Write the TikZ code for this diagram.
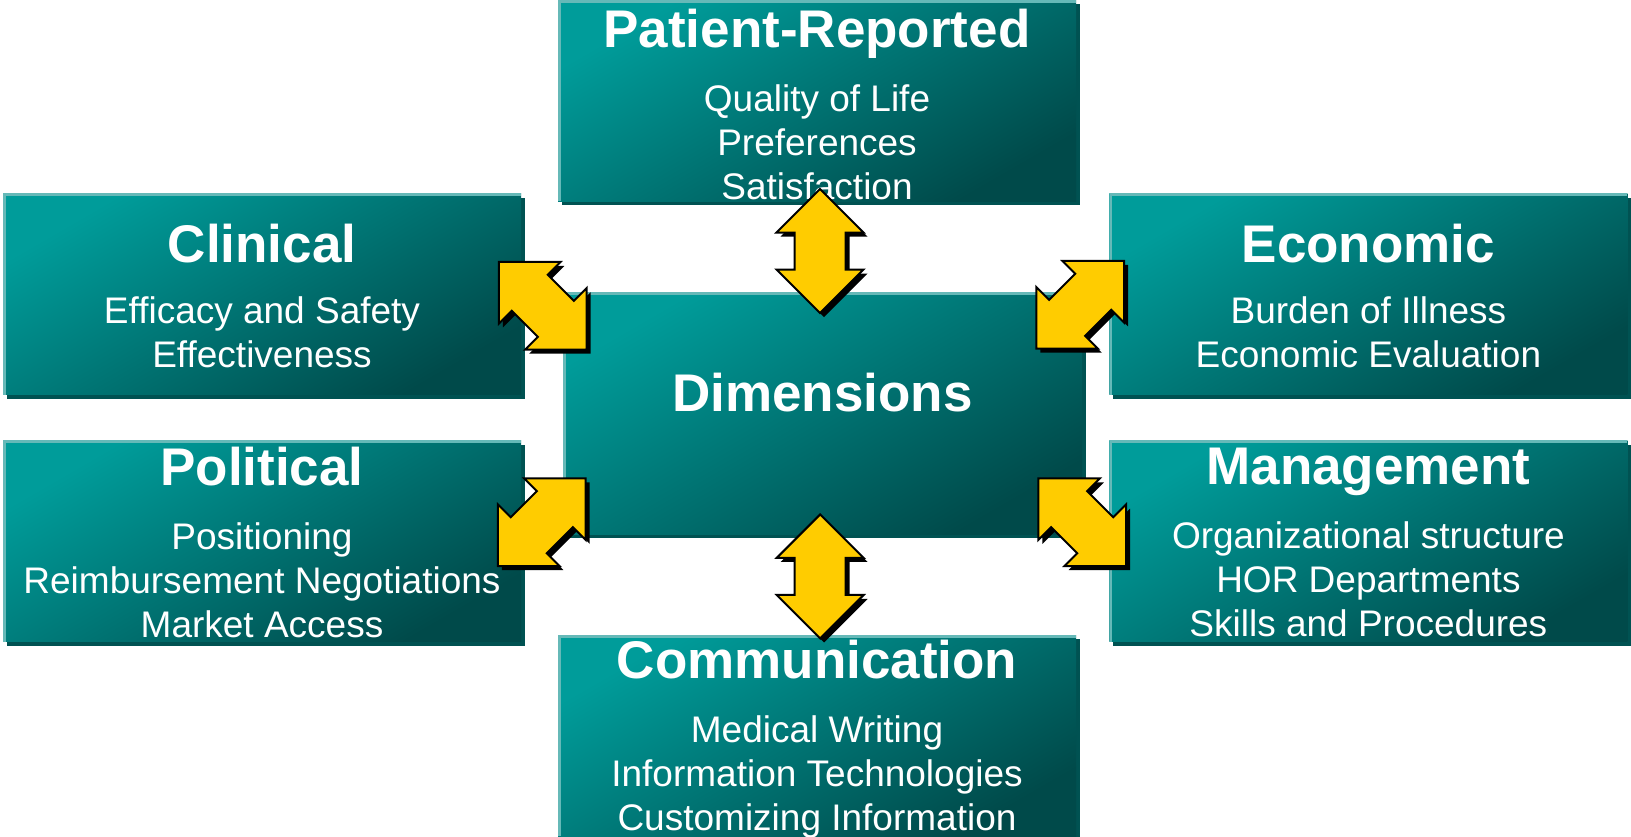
\documentclass[tikz,border=0pt]{standalone}
\usepackage{fontspec}
\setmainfont{Liberation Sans}
\usetikzlibrary{positioning,calc,shapes.arrows,shadows}

\definecolor{tealtop}{HTML}{009C9A}
\definecolor{tealbot}{HTML}{004A4A}
\definecolor{tealedge}{HTML}{66B9B8}
\definecolor{tealshade}{HTML}{005252}
\definecolor{arrowyellow}{HTML}{FFCC00}

\newcommand{\ttl}[1]{{\fontsize{53}{60}\selectfont\bfseries #1}}

\tikzset{
  dimbox/.style={rectangle, inner sep=0pt, minimum width=518pt, minimum height=201pt,
    top color=tealtop, bottom color=tealbot, shading angle=30,
    general shadow={fill=tealshade, shadow xshift=4pt, shadow yshift=-4pt},
    path picture={\draw[tealedge, line width=5pt]
      (path picture bounding box.south west) |- (path picture bounding box.north east);}},
  boxtext/.style={text=white, align=center, inner sep=0pt,
    font=\fontsize{37}{44}\selectfont},
  dimarrow/.style={double arrow, draw=black, line width=2pt, fill=arrowyellow,
    minimum height=124pt, inner xsep=0pt, inner ysep=24.5pt,
    double arrow head extend=18pt, double arrow tip angle=90,
    general shadow={fill=black, shadow xshift=4pt, shadow yshift=-4pt}}
}

\begin{document}
\begin{tikzpicture}[x=1pt, y=-1pt]
  \path[use as bounding box, fill=white] (0,0) rectangle (1631,836);

  % boxes
  \node[dimbox] (clinical) at (262,294) {};
  \node[dimbox, below=46pt of clinical] (political) {};
  \node[dimbox, right=588pt of clinical] (economic) {};
  \node[dimbox, below=46pt of economic] (management) {};
  \node[dimbox] (patient) at (817,100.5) {};
  \node[dimbox, minimum width=519pt, minimum height=242pt] (dims) at (822.5,413) {};
  \node[dimbox] (comm) at (817,735.5) {};

  % texts
  \node[boxtext, yshift=-4pt] (patientTxt) at (patient) {\ttl{Patient-Reported}\\[20pt]
    Quality of Life\\ Preferences\\ Satisfaction};
  \node[boxtext, yshift=-1.5pt] (clinicalTxt) at (clinical) {\ttl{Clinical}\\[17pt]
    Efficacy and Safety\\ Effectiveness};
  \node[boxtext, yshift=-1.5pt] (economicTxt) at (economic) {\ttl{Economic}\\[17pt]
    Burden of Illness\\ Economic Evaluation};
  \node[boxtext, yshift=20pt] (dimsTxt) at (dims) {\ttl{Dimensions}};
  \node[boxtext, yshift=-1pt] (politicalTxt) at (political) {\ttl{Political}\\[20pt]
    Positioning\\ Reimbursement Negotiations\\ Market Access};
  \node[boxtext, yshift=-1pt] (managementTxt) at (management) {\ttl{Management}\\[20pt]
    Organizational structure\\ HOR Departments\\ Skills and Procedures};
  \node[boxtext, yshift=-4pt] (commTxt) at (comm) {\ttl{Communication}\\[20pt]
    Medical Writing\\ Information Technologies\\ Customizing Information};

  % arrows
  \node[dimarrow, rotate=90] (arrowPat) at ($(patient.south)!.55!(dims.north)$) {};
  \node[dimarrow, rotate=90] (arrowComm) at ($(dims.south)!.42!(comm.north)$) {};
  \node[dimarrow, rotate=-45] (arrowClin) at ($(dims.north west)+(-20,14)$) {};
  \node[dimarrow, rotate=45] (arrowEcon) at ($(dims.north east)+(-2,13)$) {};
  \node[dimarrow, rotate=45] (arrowPol) at ($(dims.south west)+(-21,-12)$) {};
  \node[dimarrow, rotate=-45] (arrowMan) at ($(dims.south east)+(0,-12)$) {};
\end{tikzpicture}
\end{document}
